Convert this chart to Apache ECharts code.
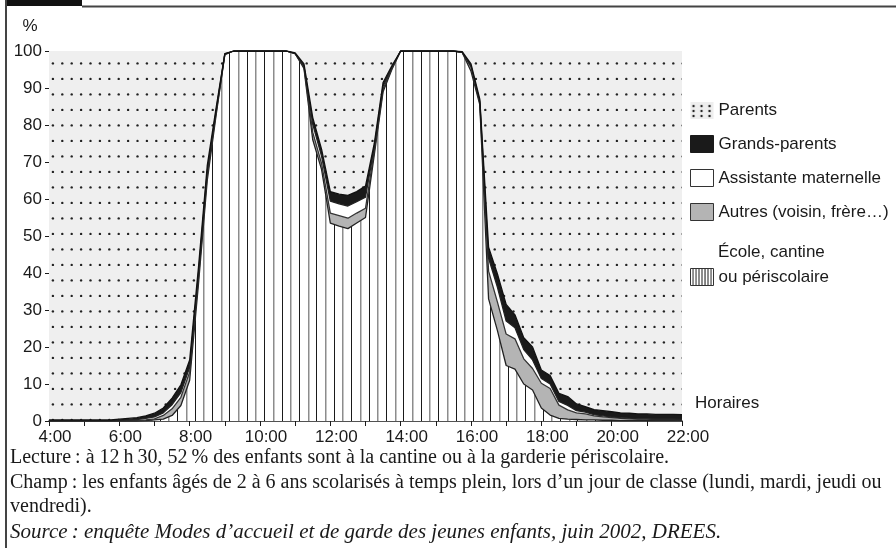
<!DOCTYPE html>
<html lang="fr">
<head>
<meta charset="utf-8">
<title>Modes de garde selon l'heure</title>
<script src="https://cdn.jsdelivr.net/npm/echarts@6.0.0/dist/echarts.min.js"></script>
<style>
  html, body { margin: 0; padding: 0; background: #fff; }
  #chart { width: 896px; height: 548px; }
</style>
</head>
<body>
<div id="chart"></div>
<script>
// quarter-hour steps, 4:00 to 22:00
const times = [
  '4:00', '4:15', '4:30', '4:45', '5:00', '5:15', '5:30', '5:45',
  '6:00', '6:15', '6:30', '6:45', '7:00', '7:15', '7:30', '7:45',
  '8:00', '8:15', '8:30', '8:45', '9:00', '9:15', '9:30', '9:45',
  '10:00', '10:15', '10:30', '10:45', '11:00', '11:15', '11:30', '11:45',
  '12:00', '12:15', '12:30', '12:45', '13:00', '13:15', '13:30', '13:45',
  '14:00', '14:15', '14:30', '14:45', '15:00', '15:15', '15:30', '15:45',
  '16:00', '16:15', '16:30', '16:45', '17:00', '17:15', '17:30', '17:45',
  '18:00', '18:15', '18:30', '18:45', '19:00', '19:15', '19:30', '19:45',
  '20:00', '20:15', '20:30', '20:45', '21:00', '21:15', '21:30', '21:45',
  '22:00'
];

// % of children, stacked bottom to top
const ecole = [
  0, 0, 0, 0, 0, 0, 0, 0,
  0, 0, 0, 0.1, 0.3, 0.5, 1.5, 4.2,
  11, 37, 65, 82.5, 99, 100, 100, 100,
  100, 100, 100, 100, 99.3, 95.3, 76, 68,
  53.5, 52.7, 52, 53.5, 55, 72, 89, 95,
  100, 100, 100, 100, 100, 100, 100, 99.6,
  94.5, 85.5, 33, 24.5, 15, 14, 10, 8.4,
  3.5, 1.6, 0.7, 0.5, 0.4, 0.3, 0.3, 0.2,
  0.2, 0.1, 0.1, 0.1, 0.1, 0.1, 0.1, 0.1,
  0.1
];
const autres = [
  0, 0, 0, 0, 0, 0, 0, 0,
  0, 0.1, 0.1, 0.2, 0.3, 1.0, 1.8, 2.2,
  2.2, 1.6, 1.5, 0.7, 0.1, 0, 0, 0,
  0, 0, 0, 0, 0, 0.4, 2, 1.6,
  2.7, 2.8, 2.8, 2.7, 2.5, 1, 0.7, 0.3,
  0, 0, 0, 0, 0, 0, 0, 0,
  1.2, 0.5, 7.5, 7.7, 8.5, 8.2, 6.8, 5.8,
  6.7, 7.2, 3.6, 2.5, 1.8, 1.6, 1.1, 0.9,
  0.7, 0.6, 0.5, 0.4, 0.4, 0.3, 0.3, 0.3,
  0.2
];
const assistante = [
  0.1, 0.1, 0.1, 0.1, 0.1, 0.1, 0.1, 0.1,
  0.2, 0.2, 0.3, 0.4, 0.5, 0.7, 1.1, 1.3,
  1.3, 1.2, 1.0, 0.5, 0.1, 0, 0, 0,
  0, 0, 0, 0, 0, 0.3, 2.2, 2,
  3.2, 3.2, 3.3, 3.1, 3, 1, 0.8, 0.3,
  0, 0, 0, 0, 0, 0, 0, 0,
  0.3, 0.4, 3.5, 4.0, 3.5, 3, 2.5, 2.3,
  1.3, 1.2, 1.0, 1.2, 0.6, 0.5, 0.3, 0.3,
  0.2, 0.2, 0.2, 0.1, 0.1, 0.1, 0.1, 0.1,
  0.1
];
const grandsParents = [
  0.2, 0.2, 0.2, 0.2, 0.2, 0.2, 0.2, 0.2,
  0.3, 0.4, 0.5, 0.7, 1.0, 1.3, 1.8, 2.1,
  2.0, 1.7, 1.5, 0.8, 0.1, 0, 0, 0,
  0, 0, 0, 0, 0.2, 0.5, 1.8, 1.9,
  2.6, 2.6, 2.9, 2.7, 3, 1, 1, 0.4,
  0, 0, 0, 0, 0, 0, 0, 0.2,
  0.5, 0.6, 3, 3.6, 4.5, 3.5, 3.2, 3.5,
  2.3, 2.3, 2.2, 2.4, 1.8, 1.5, 1.4, 1.4,
  1.4, 1.3, 1.3, 1.3, 1.3, 1.3, 1.3, 1.3,
  1.3
];
const parents = [
  99.7, 99.7, 99.7, 99.7, 99.7, 99.7, 99.7, 99.7,
  99.5, 99.3, 99.1, 98.6, 97.9, 96.5, 93.8, 90.2,
  83.5, 58.5, 31, 15.5, 0.7, 0, 0, 0,
  0, 0, 0, 0, 0.5, 3.5, 18, 26.5,
  38, 38.7, 39, 38, 36.5, 25, 8.5, 4,
  0, 0, 0, 0, 0, 0, 0, 0.2,
  3.5, 13, 53, 60.2, 68.5, 71.3, 77.5, 80,
  86.2, 87.7, 92.5, 93.4, 95.4, 96.1, 96.9, 97.2,
  97.5, 97.8, 97.9, 98.1, 98.1, 98.2, 98.2, 98.2,
  98.3
];

const SANS = "'Liberation Sans', Arial, sans-serif";
const SERIF = "'Liberation Serif', 'Times New Roman', serif";
const INK = '#1a1a1a';

// fill patterns
function stripeTile() {
  const c = document.createElement('canvas');
  c.width = 87;
  c.height = 4;
  const ctx = c.getContext('2d');
  ctx.fillStyle = '#fff';
  ctx.fillRect(0, 0, 87, 4);
  for (let k = 0; k < 10; k++) {
    ctx.fillStyle = k % 2 ? '#8c8c8c' : '#1a1a1a';
    ctx.fillRect(Math.round(3.1 + 8.7 * k), 0, k % 2 ? 1.5 : 1, 4);
  }
  return c;
}

function dotTile() {
  const c = document.createElement('canvas');
  c.width = 47;
  c.height = 31;
  const ctx = c.getContext('2d');
  ctx.fillStyle = '#efefef';
  ctx.fillRect(0, 0, 47, 31);
  ctx.fillStyle = '#222';
  [1.4, 16.9].forEach((y) => {
    for (let k = 0; k < 5; k++) {
      ctx.beginPath();
      ctx.arc(5.9 + 9.4 * k, y, 1.2, 0, Math.PI * 2);
      ctx.fill();
    }
  });
  return c;
}

function dotIcon() {
  const c = document.createElement('canvas');
  c.width = 23;
  c.height = 17;
  const ctx = c.getContext('2d');
  ctx.fillStyle = '#eeeeee';
  ctx.fillRect(0, 0, 23, 17);
  ctx.fillStyle = '#222';
  [3, 11, 19].forEach((x) => {
    [4, 9, 14].forEach((y) => {
      ctx.beginPath();
      ctx.arc(x, y, 1.2, 0, Math.PI * 2);
      ctx.fill();
    });
  });
  return c;
}

function stripeIcon() {
  const c = document.createElement('canvas');
  c.width = 23;
  c.height = 17;
  const ctx = c.getContext('2d');
  ctx.fillStyle = '#fff';
  ctx.fillRect(0, 0, 23, 17);
  ctx.fillStyle = '#1a1a1a';
  for (let x = 2; x < 23; x += 3) ctx.fillRect(x, 0, 1, 17);
  return c;
}

const stripeFill = { image: stripeTile(), repeat: 'repeat' };
const dotFill = { image: dotTile(), repeat: 'repeat' };

const NAMES = {
  ecole: 'École, cantine ou périscolaire',
  autres: 'Autres (voisin, frère…)',
  assistante: 'Assistante maternelle',
  gp: 'Grands-parents',
  parents: 'Parents',
};

function layer(name, data, fill, lineColor) {
  return {
    name: name,
    type: 'line',
    stack: 'total',
    data: data,
    symbol: 'none',
    showSymbol: false,
    lineStyle: { color: lineColor, width: lineColor ? 1.3 : 0 },
    itemStyle: { color: lineColor || '#efefef' },
    areaStyle: { color: fill, opacity: 1 },
    emphasis: { disabled: true },
  };
}

const chart = echarts.init(document.getElementById('chart'), null, { renderer: 'canvas' });

chart.setOption({
  animation: false,
  backgroundColor: '#fff',
  textStyle: { fontFamily: SANS, color: INK },
  grid: { left: 49, right: 214, top: 51, bottom: 127 },
  legend: [
    {
      orient: 'vertical',
      left: 690,
      top: 102,
      padding: 0,
      itemWidth: 23,
      itemHeight: 17,
      itemGap: 16,
      icon: 'rect',
      selectedMode: false,
      textStyle: { fontFamily: SANS, fontSize: 17, color: INK },
      data: [
        { name: NAMES.parents, itemStyle: { color: { image: dotIcon(), repeat: 'repeat' }, borderWidth: 0 } },
        { name: NAMES.gp, itemStyle: { color: '#1a1a1a', borderColor: '#1a1a1a', borderWidth: 1 } },
        { name: NAMES.assistante, itemStyle: { color: '#fff', borderColor: '#333', borderWidth: 1 } },
        { name: NAMES.autres, itemStyle: { color: '#b4b4b4', borderColor: '#333', borderWidth: 1 } },
      ],
    },
    {
      orient: 'vertical',
      left: 690,
      top: 268,
      padding: 0,
      itemWidth: 23,
      itemHeight: 17,
      icon: 'rect',
      selectedMode: false,
      textStyle: { fontFamily: SANS, fontSize: 17, color: INK },
      formatter: () => 'ou périscolaire',
      data: [
        { name: NAMES.ecole, itemStyle: { color: { image: stripeIcon(), repeat: 'repeat' }, borderColor: '#333', borderWidth: 1 } },
      ],
    },
  ],
  xAxis: {
    type: 'category',
    data: times,
    boundaryGap: false,
    name: 'Horaires',
    nameLocation: 'end',
    nameGap: 13,
    nameTextStyle: { fontFamily: SANS, fontSize: 17, color: INK, verticalAlign: 'bottom', padding: [0, 0, 9, 0] },
    axisLine: { lineStyle: { color: INK, width: 1.5 } },
    axisTick: { interval: (i) => i % 4 === 0, length: 5, lineStyle: { color: INK } },
    axisLabel: {
      interval: (i) => i % 8 === 0,
      fontFamily: SANS,
      fontSize: 17,
      color: INK,
      margin: 8,
      padding: [0, 0, 0, 12],
    },
    splitLine: { show: false },
  },
  yAxis: {
    type: 'value',
    min: 0,
    max: 100,
    interval: 10,
    name: '%',
    nameLocation: 'end',
    nameGap: 16,
    nameTextStyle: { fontFamily: SANS, fontSize: 17, color: INK, align: 'center', padding: [0, 38, 0, 0] },
    axisLine: { show: false },
    axisTick: { show: true, length: 4, lineStyle: { color: INK } },
    axisLabel: { fontFamily: SANS, fontSize: 17, color: INK, margin: 7 },
    splitLine: { show: false },
  },
  series: [
    layer(NAMES.ecole, ecole, stripeFill, '#222'),
    layer(NAMES.autres, autres, '#b4b4b4', '#333'),
    layer(NAMES.assistante, assistante, '#ffffff', '#222'),
    layer(NAMES.gp, grandsParents, '#1a1a1a', '#111'),
    layer(NAMES.parents, parents, dotFill, null),
  ],
  graphic: [
    { type: 'rect', shape: { x: 6, y: 0, width: 76, height: 6 }, style: { fill: '#111' } },
    { type: 'line', shape: { x1: 82, y1: 6.5, x2: 896, y2: 6.5 }, style: { stroke: '#444', lineWidth: 2 } },
    { type: 'line', shape: { x1: 6, y1: 0, x2: 6, y2: 548 }, style: { stroke: '#444', lineWidth: 2 } },
    {
      type: 'text', x: 718, y: 252,
      style: { text: 'École, cantine', font: '17px ' + SANS, fill: INK, verticalAlign: 'middle' },
    },
    {
      type: 'text', x: 10, y: 458, style: {
        text: 'Lecture\u2009: à 12\u2009h\u200930, 52\u2009% des enfants sont à la cantine ou à la garderie périscolaire.',
        font: '20px ' + SERIF, fill: INK, verticalAlign: 'middle',
      },
    },
    {
      type: 'text', x: 10, y: 483, style: {
        text: 'Champ\u2009: les enfants âgés de 2 à 6 ans scolarisés à temps plein, lors d’un jour de classe (lundi, mardi, jeudi ou',
        font: '20px ' + SERIF, fill: INK, verticalAlign: 'middle',
      },
    },
    {
      type: 'text', x: 10, y: 507, style: {
        text: 'vendredi).',
        font: '20px ' + SERIF, fill: INK, verticalAlign: 'middle',
      },
    },
    {
      type: 'text', x: 10, y: 532, style: {
        text: 'Source\u2009: enquête Modes d’accueil et de garde des jeunes enfants, juin 2002, DREES.',
        font: 'italic 21px ' + SERIF, fill: INK, verticalAlign: 'middle',
      },
    },
  ],
});
</script>
</body>
</html>
